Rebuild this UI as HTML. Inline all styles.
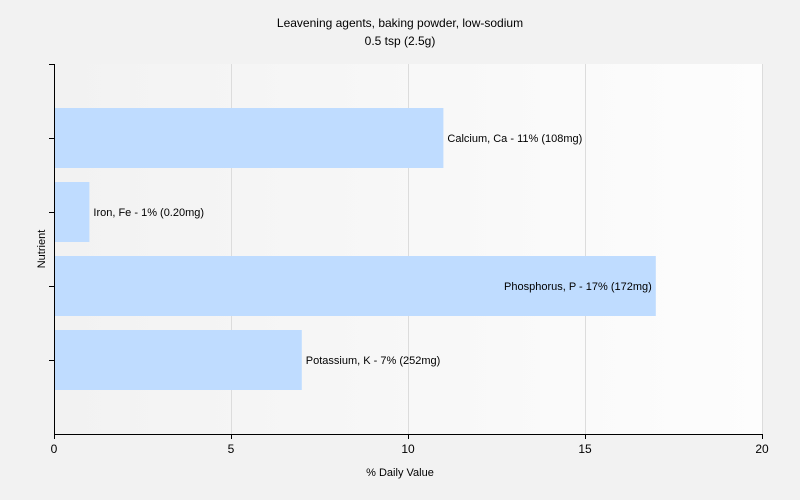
<!DOCTYPE html>
<html><head><meta charset="utf-8"><style>
html,body{margin:0;padding:0;width:800px;height:500px;overflow:hidden;background:#f2f2f2;font-family:"Liberation Sans",sans-serif;}
svg{display:block;}
</style></head><body>
<svg width="800" height="500" xmlns="http://www.w3.org/2000/svg">
<defs><linearGradient id="bg" x1="0" x2="1" y1="0" y2="0"><stop offset="0" stop-color="#f2f2f2"/><stop offset="1" stop-color="#fdfdfd"/></linearGradient></defs>
<rect width="800" height="500" fill="#f2f2f2"/>
<text x="400" y="27" text-anchor="middle" font-size="12" fill="#000">Leavening agents, baking powder, low-sodium</text>
<text x="400" y="45" text-anchor="middle" font-size="12" fill="#000">0.5 tsp (2.5g)</text>
<rect x="54" y="64" width="708" height="370" fill="url(#bg)"/>
<g id="grid"></g>
<g id="bars"></g>
<line x1="54.5" y1="64" x2="54.5" y2="434" stroke="#000"/>
<line x1="54" y1="434.5" x2="762" y2="434.5" stroke="#000"/>
<g id="ticks"></g>
<text x="400" y="476" text-anchor="middle" font-size="11">% Daily Value</text>
<text transform="translate(45,249) rotate(-90)" text-anchor="middle" font-size="11">Nutrient</text>
</svg>
<script>
const categories=["Calcium, Ca","Iron, Fe","Phosphorus, P","Potassium, K"];
const values=[11,1,17,7];
const amounts=["108mg","0.20mg","172mg","252mg"];
const xTicks=[0,5,10,15,20];
const NS="http://www.w3.org/2000/svg";
const x=v=>54+v*708/20;
const yc=i=>138+i*74;
function mk(t,a,p){const e=document.createElementNS(NS,t);for(const k in a)e.setAttribute(k,a[k]);p.appendChild(e);return e;}
const grid=document.getElementById('grid'),bars=document.getElementById('bars'),ticks=document.getElementById('ticks');
xTicks.forEach(v=>{
 if(v>0){const g=mk('line',{x1:x(v)+.5,x2:x(v)+.5,y1:64,y2:434,stroke:'#dcdcdc'},grid);
 
 }
 const t=mk('line',{x1:x(v)+.5,x2:x(v)+.5,y1:434,y2:439,stroke:'#000'},ticks);
 
 
 const l=mk('text',{x:x(v),y:453,'text-anchor':'middle','font-size':12},ticks);l.textContent=v;
 
 
});
for(let i=0;i<=categories.length;i++){
 const t=mk('line',{x1:49,x2:54,y1:64+i*74+.5,y2:64+i*74+.5,stroke:'#000'},ticks);
 
 
}
categories.forEach((c,i)=>{
 const b=mk('rect',{x:55,y:yc(i)-30,width:x(values[i])-55,height:60,fill:'#bfdcff'},bars);
 
 
 const lbl=c+' - '+values[i]+'% ('+amounts[i]+')';
 const inside=values[i]>15;
 const t=mk('text',{x:inside?x(values[i])-4:x(values[i])+4,y:yc(i)+4,'text-anchor':inside?'end':'start','font-size':11},bars);
 t.textContent=lbl;
 
 
});
</script>
</body></html>
